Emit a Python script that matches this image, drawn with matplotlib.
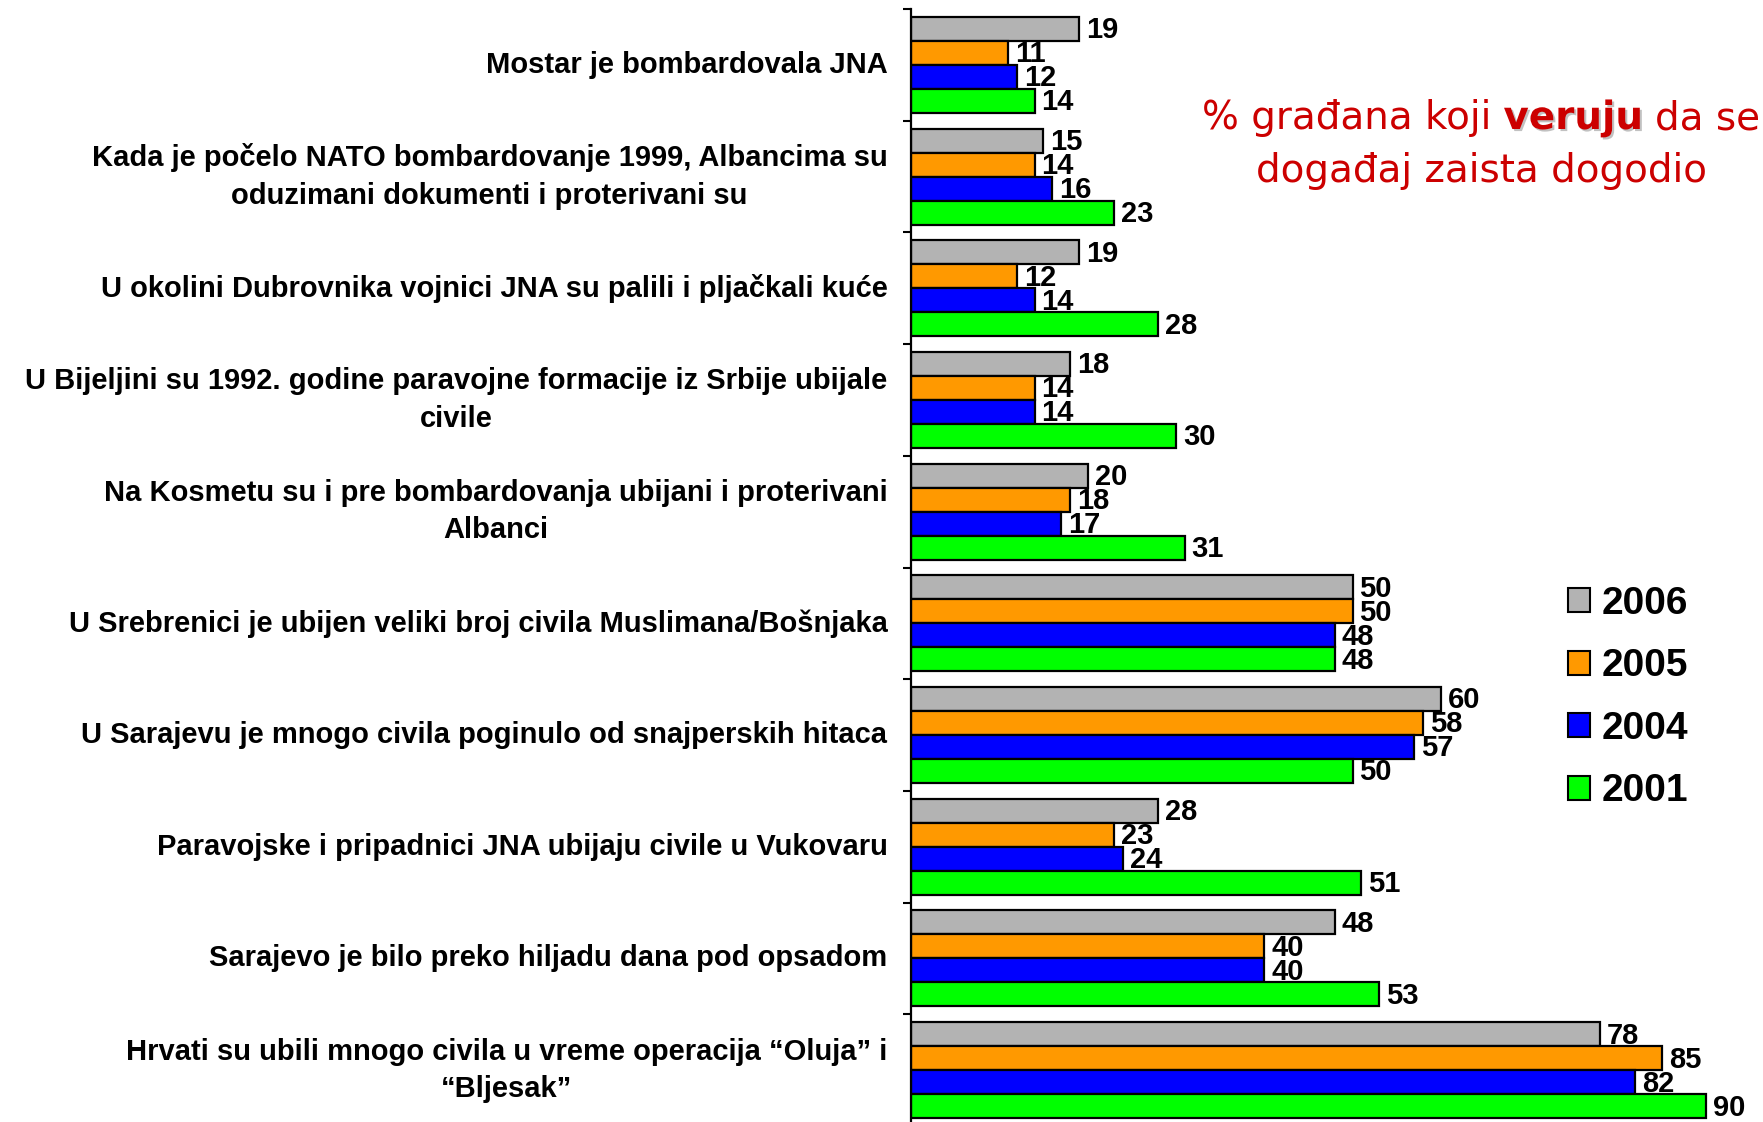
import matplotlib
matplotlib.use("Agg")
import matplotlib.pyplot as plt
import matplotlib.patches as mpatches
import matplotlib.patheffects as pe
import numpy as np

categories = [
    "Mostar je bombardovala JNA",
    "Kada je počelo NATO bombardovanje 1999, Albancima su\noduzimani dokumenti i proterivani su",
    "U okolini Dubrovnika vojnici JNA su palili i pljačkali kuće",
    "U Bijeljini su 1992. godine paravojne formacije iz Srbije ubijale\ncivile",
    "Na Kosmetu su i pre bombardovanja ubijani i proterivani\nAlbanci",
    "U Srebrenici je ubijen veliki broj civila Muslimana/Bošnjaka",
    "U Sarajevu je mnogo civila poginulo od snajperskih hitaca",
    "Paravojske i pripadnici JNA ubijaju civile u Vukovaru",
    "Sarajevo je bilo preko hiljadu dana pod opsadom",
    "Hrvati su ubili mnogo civila u vreme operacija \u201cOluja\u201d i\n\u201cBljesak\u201d",
]
years = ["2006", "2005", "2004", "2001"]
v2006 = [19, 15, 19, 18, 20, 50, 60, 28, 48, 78]
v2005 = [11, 14, 12, 14, 18, 50, 58, 23, 40, 85]
v2004 = [12, 16, 14, 14, 17, 48, 57, 24, 40, 82]
v2001 = [14, 23, 28, 30, 31, 48, 50, 51, 53, 90]
series = [v2006, v2005, v2004, v2001]
colors = ["#B3B3B3", "#FF9900", "#0000FF", "#00FF00"]

W, H = 1763, 1122
fig = plt.figure(figsize=(W / 100, H / 100), dpi=100)
ax_left, ax_top = 911, 9
group_h = 111.7
ax_w = 839
ax_h = group_h * 10
ax = fig.add_axes([ax_left / W, (H - ax_top - ax_h) / H, ax_w / W, ax_h / H])

n = len(categories)
y = np.arange(n)
bar_h = 0.215
offsets = [-0.3225, -0.1075, 0.1075, 0.3225]
label_font = ["Liberation Sans Narrow", "Liberation Sans"]
for vals, col, off, yr in zip(series, colors, offsets, years):
    bars = ax.barh(y + off, vals, height=bar_h, color=col, edgecolor="black",
                   linewidth=1.6, label=yr)
    for b, v in zip(bars, vals):
        ax.annotate(str(v), xy=(b.get_width(), b.get_y() + b.get_height() / 2),
                    xytext=(5, -1), textcoords="offset points", ha="left", va="center",
                    fontsize=21, fontweight="bold", family=label_font, color="black")

ax.set_xlim(0, 95)
ax.set_ylim(n - 0.5, -0.5)
ax.set_yticks(np.arange(n + 1) - 0.5)
ax.set_yticklabels([])
ax.set_yticks(y, minor=True)
ax.set_yticklabels(categories, minor=True, fontsize=21, fontweight="bold",
                   family="Liberation Sans", ha="right", multialignment="center",
                   linespacing=1.42)
for lbl in ax.get_yticklabels(minor=True):
    lbl.set_verticalalignment("center")
ax.tick_params(axis="y", which="major", length=6, width=1.5, direction="out")
ax.tick_params(axis="y", which="minor", length=0, pad=17)
ax.set_xticks([])
for s in ["top", "right", "bottom"]:
    ax.spines[s].set_visible(False)
ax.spines["left"].set_linewidth(1.6)

# Legend
handles = [mpatches.Patch(facecolor=c, edgecolor="black", linewidth=1.5, label=yr)
           for c, yr in zip(colors, years)]
leg = fig.legend(handles=handles, loc="upper left",
                 bbox_to_anchor=(1568 / W, 1 - 586 / H), frameon=False,
                 prop={"family": "Liberation Sans", "weight": "bold", "size": 28},
                 handlelength=0.57, handleheight=0.57, handletextpad=0.3,
                 labelspacing=0.68, borderpad=0, borderaxespad=0)

# Title text (red, mixed bold)
red = "#CC0000"
fig.canvas.draw()
r = fig.canvas.get_renderer()
fs = 28
cx = 1481
base1 = H - 129
base2 = H - 182
p1 = fig.text(0, 0, "% građana koji", fontsize=fs, family="DejaVu Sans", color=red,
              transform=None, va="baseline", ha="left")
p2 = fig.text(0, 0, "veruju", fontsize=fs, family="DejaVu Sans", fontweight="bold",
              color=red, transform=None, va="baseline", ha="left",
              path_effects=[pe.withSimplePatchShadow(offset=(1.5, -1.5),
                                                    shadow_rgbFace="#999999", alpha=0.6)])
p3 = fig.text(0, 0, "da se", fontsize=fs, family="DejaVu Sans", color=red,
              transform=None, va="baseline", ha="left")
fig.canvas.draw()
ws = [t.get_window_extent(r).width for t in (p1, p2, p3)]
sp = 0.318 * fs * 100 / 72
total = sum(ws) + 2 * sp
x0 = cx - total / 2
p1.set_position((x0, base1))
p2.set_position((x0 + ws[0] + sp, base1))
p3.set_position((x0 + ws[0] + ws[1] + 2 * sp, base1))
fig.text(cx, base2, "događaj zaista dogodio", fontsize=fs, family="DejaVu Sans",
         color=red, transform=None, va="baseline", ha="center")

fig.savefig("out.png", dpi=100)
